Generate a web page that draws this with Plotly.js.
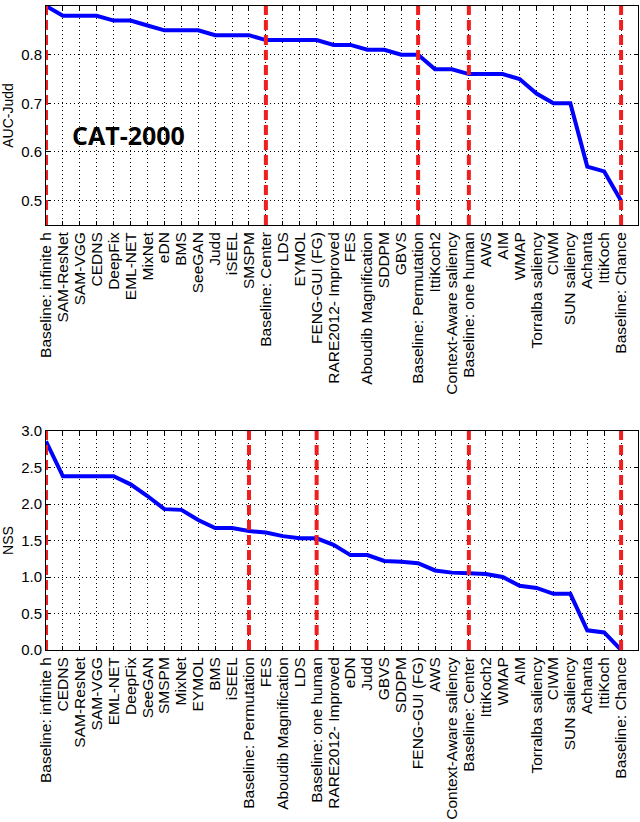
<!DOCTYPE html>
<html>
<head>
<meta charset="utf-8">
<script src="https://cdn.plot.ly/plotly-3.0.1.min.js"></script>
<style>
  html, body { margin: 0; padding: 0; background: white; }
  #chart { width: 640px; height: 822px; }
</style>
</head>
<body>
<div id="chart"></div>
<script>
// AUC-Judd ranking (top panel)
const aucModels = [
  "Baseline: infinite h", "SAM-ResNet", "SAM-VGG", "CEDNS", "DeepFix", "EML-NET",
  "MixNet", "eDN", "BMS", "SeeGAN", "Judd", "iSEEL", "SMSPM", "Baseline: Center",
  "LDS", "EYMOL", "FENG-GUI (FG)", "RARE2012- Improved", "FES",
  "Aboudib Magnification", "SDDPM", "GBVS", "Baseline: Permutation", "IttiKoch2",
  "Context-Aware saliency", "Baseline: one human", "AWS", "AIM", "WMAP",
  "Torralba saliency", "CIWM", "SUN saliency", "Achanta", "IttiKoch",
  "Baseline: Chance",
];
const aucValues = [
  0.90, 0.88, 0.88, 0.88, 0.87, 0.87, 0.86, 0.85, 0.85, 0.85, 0.84, 0.84,
  0.84, 0.83, 0.83, 0.83, 0.83, 0.82, 0.82, 0.81, 0.81, 0.80, 0.80, 0.77,
  0.77, 0.76, 0.76, 0.76, 0.75, 0.72, 0.70, 0.70, 0.57, 0.56, 0.50,
];

// NSS ranking (bottom panel)
const nssModels = [
  "Baseline: infinite h", "CEDNS", "SAM-ResNet", "SAM-VGG", "EML-NET", "DeepFix",
  "SeeGAN", "SMSPM", "MixNet", "EYMOL", "BMS", "iSEEL", "Baseline: Permutation",
  "FES", "Aboudib Magnification", "LDS", "Baseline: one human",
  "RARE2012- Improved", "eDN", "Judd", "GBVS", "SDDPM", "FENG-GUI (FG)", "AWS",
  "Context-Aware saliency", "Baseline: Center", "IttiKoch2", "WMAP", "AIM",
  "Torralba saliency", "CIWM", "SUN saliency", "Achanta", "IttiKoch",
  "Baseline: Chance",
];
const nssValues = [
  2.86, 2.38, 2.38, 2.38, 2.38, 2.27, 2.11, 1.93, 1.92, 1.78, 1.67, 1.67,
  1.63, 1.61, 1.56, 1.53, 1.53, 1.44, 1.30, 1.30, 1.22, 1.21, 1.19, 1.09,
  1.06, 1.05, 1.04, 1.00, 0.88, 0.85, 0.77, 0.77, 0.27, 0.24, 0.00,
];

const aucTicks = [0.5, 0.6, 0.7, 0.8, 0.9];
const nssTicks = [0.0, 0.5, 1.0, 1.5, 2.0, 2.5, 3.0];

const FONT = "Liberation Sans, Arial, sans-serif";

function lineTrace(models, values, xa, ya) {
  return {
    x: models.map((_, i) => i),
    y: values,
    xaxis: xa,
    yaxis: ya,
    type: "scatter",
    mode: "lines",
    line: { color: "#0000ff", width: 4 },
    hoverinfo: "x+y",
  };
}

// red dashed markers on every baseline entry
function baselineShapes(models, xref, yref) {
  return models
    .map((m, i) => (m.startsWith("Baseline") ? i : -1))
    .filter((i) => i >= 0)
    .map((i) => ({
      type: "line",
      xref: xref,
      yref: yref + " domain",
      x0: i,
      x1: i,
      y0: 0,
      y1: 1,
      line: { color: "rgb(240,30,30)", width: 4, dash: "10px,5px" },
    }));
}

function catAxis(models, anchor) {
  return {
    anchor: anchor,
    range: [0, models.length],
    tickvals: models.map((_, i) => i),
    ticktext: models,
    tickangle: -90,
    tickfont: { family: FONT, size: 15.5, color: "black" },
    ticks: "inside",
    ticklen: 4,
    tickcolor: "black",
    showline: true,
    linecolor: "black",
    linewidth: 1,
    mirror: "ticks",
    showgrid: true,
    gridcolor: "black",
    griddash: "1px,3px",
    gridwidth: 1,
    zeroline: false,
    automargin: false,
    fixedrange: true,
  };
}

function valAxis(ticks, range, title, domain) {
  return {
    domain: domain,
    range: range,
    tickvals: ticks,
    tickformat: ".1f",
    tickfont: { family: FONT, size: 15, color: "black" },
    ticks: "inside",
    ticklen: 4,
    tickcolor: "black",
    showline: true,
    linecolor: "black",
    linewidth: 1,
    mirror: "ticks",
    showgrid: true,
    gridcolor: "black",
    griddash: "1px,3px",
    gridwidth: 1,
    zeroline: false,
    automargin: false,
    fixedrange: true,
    title: {
      text: title,
      font: { family: FONT, size: 14, color: "black" },
      standoff: 4,
    },
  };
}

const data = [
  lineTrace(aucModels, aucValues, "x", "y"),
  lineTrace(nssModels, nssValues, "x2", "y2"),
];

const layout = {
  width: 640,
  height: 822,
  showlegend: false,
  paper_bgcolor: "white",
  plot_bgcolor: "white",
  margin: { t: 6, b: 172, l: 46, r: 2 },
  xaxis: catAxis(aucModels, "y"),
  yaxis: valAxis(aucTicks, [0.45, 0.9], "AUC-Judd", [0.66, 1]),
  xaxis2: catAxis(nssModels, "y2"),
  yaxis2: valAxis(nssTicks, [0, 3], "NSS", [0, 0.34]),
  shapes: [
    ...baselineShapes(aucModels, "x", "y"),
    ...baselineShapes(nssModels, "x2", "y2"),
  ],
  annotations: [
    {
      text: "<b>CAT-2000</b>",
      xref: "x",
      yref: "y",
      x: 4.9,
      y: 0.635,
      showarrow: false,
      font: { family: "Open Sans, sans-serif", size: 25, color: "black" },
    },
  ],
};

Plotly.newPlot("chart", data, layout, { displayModeBar: false, staticPlot: true });
</script>
</body>
</html>
